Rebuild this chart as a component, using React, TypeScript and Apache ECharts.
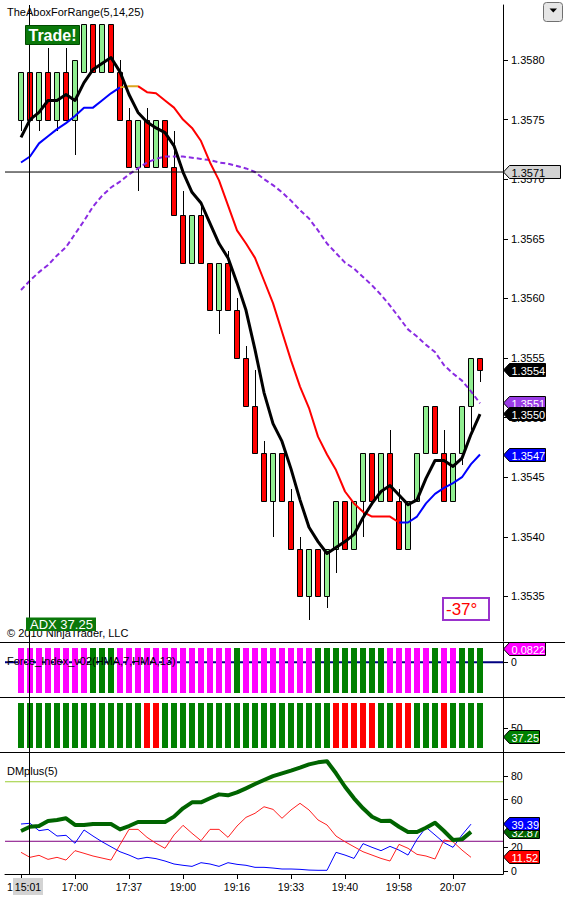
import React, { useEffect, useRef } from "react";
import * as echarts from "echarts";

// ---------- data ----------
const OPEN = [1.3575,1.3579,1.3575,1.3579,1.3575,1.3579,1.3575,1.3579,1.3583,1.3579,1.3583,1.3579,1.3575,1.3571,1.3575,1.3571,1.3575,1.3571,1.3567,1.3563,1.3567,1.3563,1.3559,1.3563,1.3559,1.3555,1.3551,1.3547,1.3543,1.3547,1.3543,1.3539,1.3535,1.3539,1.3535,1.3539,1.3543,1.3539,1.3543,1.3547,1.3543,1.3547,1.3543,1.3539,1.3543,1.3547,1.3551,1.3547,1.3543,1.3547,1.3551,1.3555];
const CLOSE = [1.3579,1.3575,1.3579,1.3575,1.3579,1.3575,1.3580,1.3583,1.3579,1.3583,1.3579,1.3575,1.3571,1.3575,1.3571,1.3575,1.3571,1.3567,1.3563,1.3567,1.3563,1.3559,1.3563,1.3559,1.3555,1.3551,1.3547,1.3543,1.3547,1.3543,1.3539,1.3535,1.3539,1.3535,1.3539,1.3543,1.3539,1.3543,1.3547,1.3543,1.3547,1.3543,1.3539,1.3543,1.3547,1.3551,1.3547,1.3543,1.3547,1.3551,1.3555,1.3554];
const LOW = [1.3574,1.3575,1.3574,1.3575,1.3574,1.3575,1.3572,1.3579,1.3579,1.3579,1.3579,1.3575,1.3571,1.3569,1.3571,1.3571,1.3571,1.3567,1.3563,1.3563,1.3563,1.3559,1.3557,1.3559,1.3555,1.3551,1.3547,1.3543,1.3540,1.3543,1.3539,1.3535,1.3533,1.3535,1.3534,1.3537,1.3539,1.3539,1.3540,1.3543,1.3543,1.3543,1.3539,1.3539,1.3543,1.3547,1.3547,1.3543,1.3543,1.3546,1.3549,1.3553];
const HIGH = [1.3579,1.3579,1.3579,1.3581,1.3579,1.3581,1.3580,1.3583,1.3583,1.3583,1.3583,1.3580,1.3576,1.3575,1.3576,1.3575,1.3575,1.3574,1.3569,1.3567,1.3568,1.3563,1.3563,1.3564,1.3560,1.3556,1.3554,1.3548,1.3547,1.3547,1.3544,1.3540,1.3539,1.3539,1.3539,1.3543,1.3543,1.3543,1.3547,1.3547,1.3547,1.3549,1.3544,1.3543,1.3547,1.3551,1.3551,1.3549,1.3547,1.3551,1.3555,1.3555];

const FAST_MA = [1.35735,1.35750,1.35756,1.35766,1.35766,1.35771,1.35766,1.35781,1.35792,1.35797,1.35802,1.35790,1.35771,1.35756,1.35748,1.35743,1.35739,1.35728,1.35706,1.35689,1.35680,1.35663,1.35646,1.35634,1.35613,1.35590,1.35557,1.35521,1.35495,1.35480,1.35457,1.35431,1.35408,1.35396,1.35386,1.35391,1.35396,1.35402,1.35416,1.35428,1.35438,1.35443,1.35435,1.35427,1.35431,1.35449,1.35464,1.35464,1.35459,1.35466,1.35486,1.35503];
const MID_MA = [1.35714,1.35719,1.35730,1.35736,1.35742,1.35747,1.35753,1.35760,1.35760,1.35766,1.35772,1.35777,1.35778,1.35778,1.35773,1.35772,1.35766,1.35760,1.35750,1.35743,1.35732,1.35714,1.35699,1.35678,1.35657,1.35646,1.35634,1.35615,1.35596,1.35572,1.35548,1.35526,1.35508,1.35484,1.35469,1.35456,1.35438,1.35428,1.35421,1.35417,1.35417,1.35417,1.35412,1.35412,1.35417,1.35428,1.35436,1.35441,1.35445,1.35450,1.35461,1.35469];
const SLOW_MA = [1.35607,1.35615,1.35622,1.35628,1.35636,1.35643,1.35654,1.35665,1.35677,1.35686,1.35693,1.35698,1.35704,1.35709,1.35714,1.35717,1.35719,1.35719,1.35719,1.35718,1.35717,1.35716,1.35714,1.35713,1.35711,1.35709,1.35706,1.35700,1.35695,1.35689,1.35682,1.35674,1.35667,1.35657,1.35646,1.35638,1.35630,1.35625,1.35618,1.35611,1.35603,1.35594,1.35584,1.35574,1.35568,1.35561,1.35555,1.35544,1.35537,1.35531,1.35522,1.35512];
const MID_UP_RANGES = [[0, 11], [42, 51]];
const MID_FLAT_RANGES = [[11, 13]];
const MID_DOWN_RANGES = [[13, 42]];

// force index colour state: 1 = magenta, 0 = green
const FORCE_STATE = [1,1,1,1,1,1,1,1,0,0,0,1,1,1,1,1,1,1,1,1,1,1,1,1,0,1,1,1,1,1,1,1,1,0,0,0,0,0,0,0,0,1,1,1,1,1,0,1,1,0,0,0];
// ADX bar state: 1 = green, 0 = red
const ADX_STATE = [1,1,1,1,1,1,1,1,1,1,1,1,1,1,0,0,1,1,1,1,1,1,1,1,1,1,1,1,1,1,1,1,1,1,1,0,0,0,0,0,1,1,0,0,1,1,1,0,1,1,1,1];

const ADX_LINE = [33.6,37.2,37.8,42.0,42.9,44.3,38.7,38.7,39.5,39.5,39.5,35.0,37.8,41.2,41.2,41.2,41.2,45.7,52.7,57.7,57.7,61.1,64.4,63.6,66.1,69.5,73.1,76.5,79.8,82.1,84.3,86.8,89.6,91.3,92.2,82.1,70.8,61.1,52.7,45.6,42.0,42.3,37.2,32.8,32.8,36.4,40.6,33.6,26.1,26.6,32.87,null];
const DM_PLUS = [39.5,40.1,33.9,35.0,29.4,30.0,23.3,34.5,29.4,24.6,20.4,16.2,13.4,10.1,11.5,10.4,8.4,5.9,4.8,3.9,7.0,5.9,3.9,7.0,5.6,4.8,3.1,3.1,2.5,1.7,1.7,1.4,0.8,0.6,0.6,15.7,13.4,10.6,23.0,19.9,17.1,20.7,17.6,13.4,26.6,36.7,30.3,23.8,19.9,30.3,39.39,null];
const DM_MINUS = [15.7,11.5,13.2,9.8,11.5,9.2,17.1,14.9,12.6,10.9,9.2,22.1,35.0,35.0,28.3,23.3,19.1,30.3,38.4,31.7,25.5,35.0,35.0,28.3,37.8,45.1,48.5,54.0,51.8,44.3,51.3,56.9,51.3,42.9,38.7,29.4,24.6,20.4,16.2,13.4,10.6,8.4,22.4,19.1,14.0,12.6,10.1,26.1,24.6,17.6,11.52,null];
const DM_LEVELS = [75, 25];

const PRICE_TICKS = [1.3535,1.354,1.3545,1.355,1.3555,1.356,1.3565,1.357,1.3575,1.358];
const DM_TICKS = [0, 20, 40, 60, 80];
const TIME_TICKS = [0, 6, 12, 18, 24, 30, 36, 42, 48];
const TIME_LABELS = ["", "17:00", "17:37", "19:00", "19:16", "19:33", "19:40", "19:58", "20:07"];

const CROSS_INDEX = 1;
const CROSS_PRICE = 1.35706;
const CROSS_TIME = "15:01";
const FORCE_LAST = 0.0822;
const ADX_LAST = 37.25;
const ANGLE_TEXT = "-37°";

// ---------- layout ----------
const FONT = '"Liberation Sans", Arial, sans-serif';
const N = OPEN.length;
const IDX = Array.from({ length: N }, (_, i) => i);
const X_MIN = -16 / 9;
const X_MAX = 482 / 9;
const P_MIN = 1.353126;
const P_MAX = 1.358461;

const GREEN_BAR = "#008000";
const PINK = "#FF00FF";
const RED = "#FF0000";
const LIGHT_GREEN = "#90EE90";

function inRanges(i: number, ranges: number[][]) {
  return ranges.some(([a, b]) => i >= a && i <= b);
}

function buildOption(): any {
  const grids = [
    { left: 5, top: 5, width: 498, height: 636 },
    { left: 5, top: 642, width: 498, height: 55 },
    { left: 5, top: 697, width: 498, height: 55 },
    { left: 5, top: 752, width: 498, height: 122 },
  ];
  const xAxes = grids.map((_, g) =>
    g === 3
      ? {
          type: "value",
          gridIndex: g,
          min: X_MIN,
          max: X_MAX,
          position: "bottom",
          axisLine: { show: true, onZero: false, lineStyle: { color: "#000", width: 1 } },
          axisTick: { show: true, length: 5, lineStyle: { color: "#000" }, customValues: TIME_TICKS },
          axisLabel: {
            show: true,
            margin: 7,
            color: "#000",
            fontSize: 10.5,
            fontFamily: FONT,
            customValues: TIME_TICKS.slice(1),
            formatter: (v: number) => {
              const k = TIME_TICKS.indexOf(Math.round(v));
              return k >= 0 ? TIME_LABELS[k] : "";
            },
          },
          splitLine: { show: false },
        }
      : { type: "value", gridIndex: g, min: X_MIN, max: X_MAX, show: false, axisLine: { onZero: false }, splitLine: { show: false } }
  );
  const yBase = (g: number, min: number, max: number, ticks: number[], fmt: (v: number) => string, fs: number) => ({
    type: "value",
    gridIndex: g,
    position: "right",
    min,
    max,
    axisLine: { show: true, onZero: false, lineStyle: { color: "#000", width: 1 } },
    axisTick: { show: true, length: 5, lineStyle: { color: "#000" }, customValues: ticks },
    axisLabel: { show: true, margin: 8, color: "#000", fontSize: fs, fontFamily: FONT, customValues: ticks, formatter: fmt },
    splitLine: { show: false },
  });
  const yAxes = [
    yBase(0, P_MIN, P_MAX, PRICE_TICKS, (v) => v.toFixed(4), 11),
    yBase(1, -0.218, 0.127, [0], (v) => String(Math.round(v)), 10.5),
    yBase(2, 16, 94, [50], (v) => String(Math.round(v)), 10.5),
    yBase(3, -2.5, 100, DM_TICKS, (v) => String(Math.round(v)), 10.5),
  ];

  const candleSeries = {
    type: "custom",
    xAxisIndex: 0,
    yAxisIndex: 0,
    data: IDX.map((i) => [i, OPEN[i], CLOSE[i], LOW[i], HIGH[i]]),
    encode: { x: 0, y: [1, 2, 3, 4] },
    renderItem: (params: any, api: any) => {
      const i = api.value(0);
      const o = api.value(1);
      const c = api.value(2);
      const l = api.value(3);
      const h = api.value(4);
      const x = Math.round(api.coord([i, o])[0]);
      const yo = api.coord([i, o])[1];
      const yc = api.coord([i, c])[1];
      const yl = api.coord([i, l])[1];
      const yh = api.coord([i, h])[1];
      const top = Math.round(Math.min(yo, yc));
      const bot = Math.round(Math.max(yo, yc));
      const up = c >= o;
      return {
        type: "group",
        children: [
          { type: "line", shape: { x1: x + 0.5, y1: Math.round(yh), x2: x + 0.5, y2: Math.round(yl) }, style: { stroke: "#000", lineWidth: 1 } },
          { type: "rect", shape: { x: x - 2.5, y: top + 0.5, width: 5, height: Math.max(bot - top, 1) }, style: { fill: up ? LIGHT_GREEN : RED, stroke: "#000", lineWidth: 1 } },
        ],
      };
    },
    z: 2,
  };

  const bandSeries = (g: number, state: number[], onColor: string, offColor: string, yVal: number) => ({
    type: "custom",
    xAxisIndex: g,
    yAxisIndex: g,
    data: IDX.map((i) => [i, yVal, state[i]]),
    encode: { x: 0, y: 1 },
    renderItem: (params: any, api: any) => {
      const x = Math.round(api.coord([api.value(0), api.value(1)])[0]);
      const cs = params.coordSys;
      return {
        type: "rect",
        shape: { x: x - 3, y: cs.y + 6, width: 6, height: cs.height - 10 },
        style: { fill: api.value(2) ? onColor : offColor },
      };
    },
    z: 2,
  });

  const levelLine = (g: number, value: number, color: string, width: number) => ({
    type: "line",
    xAxisIndex: g,
    yAxisIndex: g,
    data: [[X_MIN, value], [X_MAX, value]],
    symbol: "none",
    silent: true,
    lineStyle: { color, width },
    z: 1,
  });

  const maLine = (values: (number | null)[], ranges: number[][] | null, color: string, width: number, type: any = "solid") => ({
    type: "line",
    xAxisIndex: 0,
    yAxisIndex: 0,
    data: IDX.map((i) => [i, ranges && !inRanges(i, ranges) ? null : values[i]]),
    symbol: "none",
    connectNulls: false,
    silent: true,
    lineStyle: { color, width, type, cap: "butt", join: "round" },
    z: 3,
  });

  const dmLine = (values: (number | null)[], color: string, width: number) => ({
    type: "line",
    xAxisIndex: 3,
    yAxisIndex: 3,
    data: IDX.map((i) => [i, values[i]]),
    symbol: "none",
    connectNulls: false,
    silent: true,
    lineStyle: { color, width, join: "round" },
    z: 3,
  });

  return {
    animation: false,
    backgroundColor: "#ffffff",
    grid: grids,
    xAxis: xAxes,
    yAxis: yAxes,
    series: [
      candleSeries,
      { ...levelLine(0, CROSS_PRICE, "#000", 1), z: 4 },
      maLine(SLOW_MA, null, "#8A2BE2", 2, [5, 3]),
      maLine(MID_MA, MID_UP_RANGES, "#0000FF", 2),
      maLine(MID_MA, MID_DOWN_RANGES, "#FF0000", 2),
      maLine(MID_MA, MID_FLAT_RANGES, "#DAA520", 2),
      { ...maLine(FAST_MA, null, "#000000", 3), z: 4 },
      levelLine(1, 0, "#000080", 2),
      bandSeries(1, FORCE_STATE, PINK, GREEN_BAR, 0),
      bandSeries(2, ADX_STATE, GREEN_BAR, RED, 50),
      levelLine(3, DM_LEVELS[0], "#9ACD32", 1),
      levelLine(3, DM_LEVELS[1], "#800080", 1),
      dmLine(DM_PLUS, "#0000FF", 1),
      dmLine(DM_MINUS, "#FF2020", 1),
      dmLine(ADX_LINE, "#006400", 4),
    ],
  };
}

function textEl(text: string, x: number, y: number, opts: any = {}) {
  return {
    type: "text",
    x,
    y,
    z: opts.z ?? 100,
    silent: true,
    style: {
      text,
      fill: opts.fill ?? "#000",
      fontSize: opts.fontSize ?? 11,
      fontFamily: FONT,
      fontWeight: opts.fontWeight ?? "normal",
      align: opts.align ?? "left",
      textAlign: opts.align ?? "left",
      verticalAlign: "middle",
      textVerticalAlign: "middle",
    },
  };
}

function flagEl(yRaw: number, w: number, fill: string, textColor: string, text: string, z: number) {
  const x0 = 503.5;
  const yc = Math.round(yRaw);
  const h = 6.5;
  return [
    {
      type: "polygon",
      z,
      silent: true,
      shape: { points: [[x0, yc], [x0 + 6, yc - h], [x0 + w, yc - h], [x0 + w, yc + h], [x0 + 6, yc + h]] },
      style: { fill, stroke: "#000", lineWidth: 1 },
    },
    textEl(text, x0 + 8, yc + 0.5, { fill: textColor, z: z + 1 }),
  ];
}

export default function App() {
  const ref = useRef<HTMLDivElement>(null);
  useEffect(() => {
    if (!ref.current) return;
    const chart = echarts.init(ref.current, null, { renderer: "svg" });
    chart.setOption(buildOption());
    const px = (g: number, x: number, y: number) => chart.convertToPixel({ gridIndex: g } as any, [x, y]) as number[];

    const last = (arr: (number | null)[]) => {
      for (let i = arr.length - 1; i >= 0; i--) if (arr[i] != null) return arr[i] as number;
      return 0;
    };
    const crossX = Math.round(px(0, CROSS_INDEX, P_MIN)[0]) - 0.5;

    const g: any[] = [];
    // separators
    [642.5, 697.5, 752.5].forEach((y) =>
      g.push({ type: "line", z: 90, silent: true, shape: { x1: 0, y1: y, x2: 565, y2: y }, style: { stroke: "#000", lineWidth: 1 } })
    );
    // vertical crosshair
    g.push({ type: "line", z: 50, silent: true, shape: { x1: crossX, y1: 5, x2: crossX, y2: 874 }, style: { stroke: "#000", lineWidth: 1 } });

    // title & texts
    g.push(textEl("TheAboxForRange(5,14,25)", 7, 12));
    g.push(textEl("Force_Index_v02(HMA,7,HMA,13)", 7, 661));
    g.push(textEl("DMplus(5)", 7, 771));
    g.push(textEl("© 2010 NinjaTrader, LLC", 7, 633));

    // Trade! box
    g.push({ type: "rect", z: 101, silent: true, shape: { x: 25.5, y: 25.5, width: 54, height: 19 }, style: { fill: "#0A780A", stroke: "#004A00", lineWidth: 1 } });
    g.push(textEl("Trade!", 52.5, 35.5, { fill: "#fff", fontSize: 16, fontWeight: "bold", align: "center", z: 102 }));

    // ADX box
    g.push({ type: "rect", z: 101, silent: true, shape: { x: 26, y: 617.5, width: 70, height: 13.5 }, style: { fill: "#0A780A" } });
    g.push(textEl("ADX " + ADX_LAST.toFixed(2), 30, 624.5, { fill: "#fff", fontSize: 13, z: 102 }));

    // angle box
    g.push({ type: "rect", z: 101, silent: true, shape: { x: 443, y: 598, width: 46, height: 22 }, style: { fill: "#fff", stroke: "#9932CC", lineWidth: 2 } });
    g.push(textEl(ANGLE_TEXT, 446, 609, { fill: "#FF0000", fontSize: 17, z: 102 }));

    // dropdown button
    g.push({ type: "rect", z: 101, silent: true, shape: { x: 543.5, y: 2.5, width: 19, height: 19, r: 3 }, style: { fill: "#E6E6E6", stroke: "#707070", lineWidth: 1 } });
    g.push({ type: "polygon", z: 102, silent: true, shape: { points: [[549.5, 8.5], [557, 8.5], [553.25, 12.5]] }, style: { fill: "#000" } });

    // x-axis crosshair label
    g.push(textEl("1", 7, 886.5, { fontSize: 10.5 }));
    g.push({ type: "rect", z: 101, silent: true, shape: { x: 13, y: 878, width: 30, height: 17 }, style: { fill: "#D3D3D3" } });
    g.push(textEl(CROSS_TIME, 28, 886.5, { fontSize: 10.5, align: "center", z: 102 }));

    // price flags
    g.push(...flagEl(px(0, 0, CROSS_PRICE)[1], 57, "#D3D3D3", "#000", CROSS_PRICE.toFixed(4), 110));
    g.push(...flagEl(px(0, 0, CLOSE[N - 1])[1], 42, "#000", "#fff", CLOSE[N - 1].toFixed(4), 110));
    g.push(...flagEl(px(0, 0, last(SLOW_MA))[1], 42, "#9A3CE6", "#fff", last(SLOW_MA).toFixed(4), 112));
    g.push(...flagEl(px(0, 0, last(FAST_MA))[1], 42, "#000", "#fff", last(FAST_MA).toFixed(4), 114));
    g.push(...flagEl(px(0, 0, last(MID_MA))[1], 42, "#0000FF", "#fff", last(MID_MA).toFixed(4), 116));
    // indicator flags
    g.push(...flagEl(px(1, 0, FORCE_LAST)[1], 42, PINK, "#fff", FORCE_LAST.toFixed(4), 110));
    g.push(...flagEl(px(2, 0, ADX_LAST)[1], 36, GREEN_BAR, "#fff", ADX_LAST.toFixed(2), 110));
    g.push(...flagEl(px(3, 0, last(ADX_LINE))[1], 36, "#006400", "#fff", last(ADX_LINE).toFixed(2), 110));
    g.push(...flagEl(px(3, 0, last(DM_PLUS))[1], 36, "#0000FF", "#fff", last(DM_PLUS).toFixed(2), 112));
    g.push(...flagEl(px(3, 0, last(DM_MINUS))[1], 36, "#FF0000", "#fff", last(DM_MINUS).toFixed(2), 114));

    chart.setOption({ graphic: g });
    return () => chart.dispose();
  }, []);
  return <div ref={ref} style={{ position: "absolute", left: 0, top: 0, width: 565, height: 900 }} />;
}
